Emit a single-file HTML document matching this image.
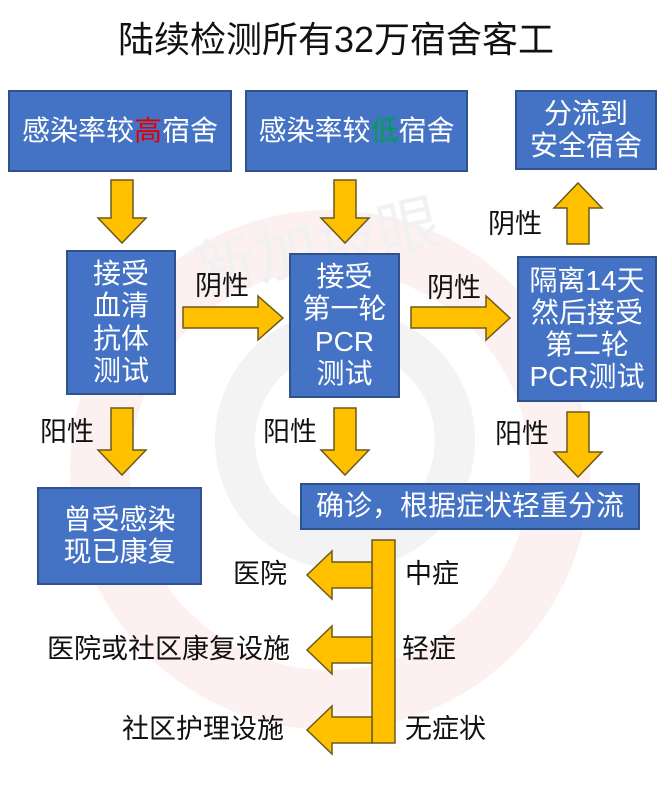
<!DOCTYPE html>
<html><head><meta charset="utf-8"><style>
html,body{margin:0;padding:0;background:#fff}
#c{position:relative;width:663px;height:800px;overflow:hidden;font-family:"Liberation Sans","Noto Sans CJK SC",sans-serif}
.b{position:absolute;background:#4472C4;border:2px solid #2F528F;box-sizing:border-box;color:#fff;display:flex;align-items:center;justify-content:center;text-align:center;line-height:1.15}
.t{position:absolute;color:#111;font-size:27px;white-space:nowrap;line-height:1}
svg{position:absolute;left:0;top:0}
</style></head><body><div id="c">
<svg width="663" height="800">
<circle cx="330" cy="470" r="230" fill="none" stroke="#fdf0f0" stroke-width="60"/>
<circle cx="345" cy="440" r="110" fill="none" stroke="#f3f3f3" stroke-width="40"/>
<text x="190" y="265" font-size="62" fill="#f1f1f1" font-family="Noto Sans CJK SC" transform="rotate(-12 330 230)">新加坡眼</text>
</svg>
<div class="t" style="left:118px;top:22px;font-size:36px">陆续检测所有32万宿舍客工</div>
<div class="b" style="left:8px;top:90px;width:224px;height:82px;font-size:28px">感染率较<span style="color:#e00000">高</span>宿舍</div>
<div class="b" style="left:245px;top:90px;width:223px;height:82px;font-size:28px">感染率较<span style="color:#00a050">低</span>宿舍</div>
<div class="b" style="left:515px;top:90px;width:142px;height:80px;font-size:28px">分流到<br>安全宿舍</div>
<div class="b" style="left:66px;top:250px;width:110px;height:145px;font-size:28px">接受<br>血清<br>抗体<br>测试</div>
<div class="b" style="left:289px;top:253px;width:111px;height:145px;font-size:28px">接受<br>第一轮<br>PCR<br>测试</div>
<div class="b" style="left:517px;top:256px;width:140px;height:146px;font-size:28px">隔离14天<br>然后接受<br>第二轮<br>PCR测试</div>
<div class="b" style="left:37px;top:487px;width:165px;height:98px;font-size:28px">曾受感染<br>现已康复</div>
<div class="b" style="left:300px;top:483px;width:340px;height:47px;font-size:28px">确诊，根据症状轻重分流</div>
<svg width="663" height="800">
<g fill="#FFC000" stroke="#6b5a1a" stroke-width="1.5">
<polygon points="111,180 133,180 133,218 146,218 122,243 98,218 111,218"/>
<polygon points="334,180 356,180 356,218 369,218 345,243 321,218 334,218"/>
<polygon points="567,244 589,244 589,208 602,208 578,183 554,208 567,208"/>
<polygon points="183,307 258,307 258,296 283,318 258,340 258,328 183,328"/>
<polygon points="411,307 486,307 486,296 510,318 486,340 486,328 411,328"/>
<polygon points="111,408 133,408 133,450 146,450 122,475 98,450 111,450"/>
<polygon points="334,408 356,408 356,450 369,450 345,475 321,450 334,450"/>
<polygon points="567,412 589,412 589,452 602,452 578,477 554,452 567,452"/>
<rect x="372" y="540" width="23" height="203"/>
<polygon points="372,562 332,562 332,551 307,575 332,599 332,588 372,588"/>
<polygon points="372,637 332,637 332,626 307,650 332,674 332,663 372,663"/>
<polygon points="372,717 332,717 332,706 307,730 332,754 332,743 372,743"/>
</g></svg>
<div class="t" style="left:195px;top:273px">阴性</div>
<div class="t" style="left:427px;top:275px">阴性</div>
<div class="t" style="left:488px;top:211px">阴性</div>
<div class="t" style="left:40px;top:419px">阳性</div>
<div class="t" style="left:263px;top:419px">阳性</div>
<div class="t" style="left:495px;top:421px">阳性</div>
<div class="t" style="left:233px;top:561px">医院</div>
<div class="t" style="left:47px;top:636px">医院或社区康复设施</div>
<div class="t" style="left:122px;top:716px">社区护理设施</div>
<div class="t" style="left:405px;top:561px">中症</div>
<div class="t" style="left:402px;top:636px">轻症</div>
<div class="t" style="left:405px;top:716px">无症状</div>
</div></body></html>
